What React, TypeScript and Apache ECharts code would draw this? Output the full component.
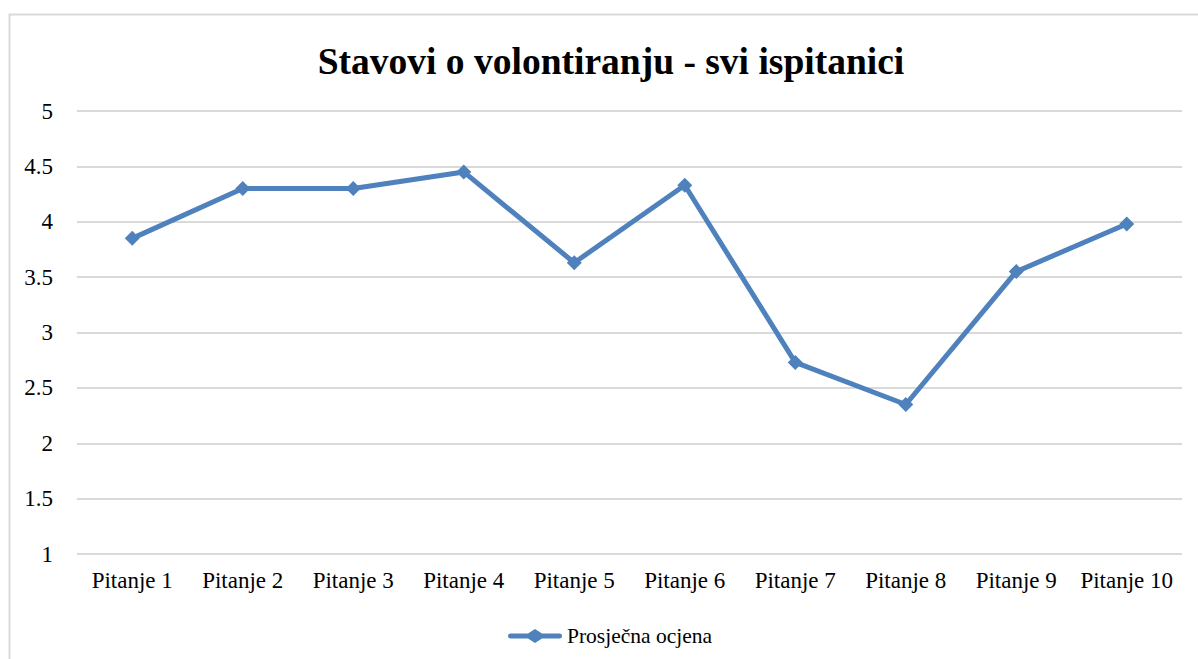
import React, { useEffect, useRef } from "react";
import * as echarts from "echarts";

const categories = ["Pitanje 1", "Pitanje 2", "Pitanje 3", "Pitanje 4", "Pitanje 5", "Pitanje 6", "Pitanje 7", "Pitanje 8", "Pitanje 9", "Pitanje 10"];
const values = [3.85, 4.3, 4.3, 4.45, 3.63, 4.33, 2.73, 2.35, 3.55, 3.98];
const seriesName = "Prosječna ocjena";
const titleText = "Stavovi o volontiranju - svi ispitanici";

const legendIcon =
  "path://M2.5,4.5 L20,4.5 L27,0 L34,4.5 L51.5,4.5 A2.5,2.5 0 0 1 51.5,9.5 L34,9.5 L27,14 L20,9.5 L2.5,9.5 A2.5,2.5 0 0 1 2.5,4.5 Z";

export default function App() {
  const ref = useRef<HTMLDivElement>(null);
  useEffect(() => {
    const chart = echarts.init(ref.current!, null, { renderer: "svg" });
    const font = "Liberation Serif";
    chart.setOption({
      animation: false,
      backgroundColor: "#fff",
      graphic: [
        {
          type: "rect",
          shape: { x: 9.5, y: 14.5, width: 1300, height: 800 },
          style: { fill: "none", stroke: "#d9d9d9", lineWidth: 2 },
          silent: true,
        },
      ],
      title: {
        text: titleText,
        left: 606,
        top: 37,
        textAlign: "center",
        textStyle: { fontFamily: font, fontWeight: "bold", fontSize: 37.5, color: "#000" },
      },
      legend: {
        data: [{ name: seriesName, icon: legendIcon }],
        left: 503,
        top: 620,
        itemWidth: 54,
        itemHeight: 14,
        itemGap: 5,
        itemStyle: { color: "#4F81BD", borderWidth: 0 },
        textStyle: { fontFamily: font, fontSize: 21.5, color: "#000" },
      },
      grid: { left: 77, right: 16, top: 111, bottom: 105, containLabel: false },
      xAxis: {
        type: "category",
        data: categories,
        boundaryGap: true,
        axisLine: { show: false },
        axisTick: { show: false },
        axisLabel: { fontFamily: font, fontSize: 23, color: "#000", margin: 15, interval: 0 },
      },
      yAxis: {
        type: "value",
        min: 1,
        max: 5,
        interval: 0.5,
        axisLine: { show: false },
        axisTick: { show: false },
        axisLabel: { fontFamily: font, fontSize: 23, color: "#000", margin: 24 },
        splitLine: { lineStyle: { color: "#d9d9d9", width: 2 } },
      },
      series: [
        {
          name: seriesName,
          type: "line",
          data: values,
          symbol: "diamond",
          symbolSize: 15,
          lineStyle: { color: "#4F81BD", width: 5 },
          itemStyle: { color: "#4F81BD" },
        },
      ],
    });
    return () => chart.dispose();
  }, []);
  return <div ref={ref} style={{ position: "fixed", left: 0, top: 0, width: 1198, height: 659 }} />;
}
